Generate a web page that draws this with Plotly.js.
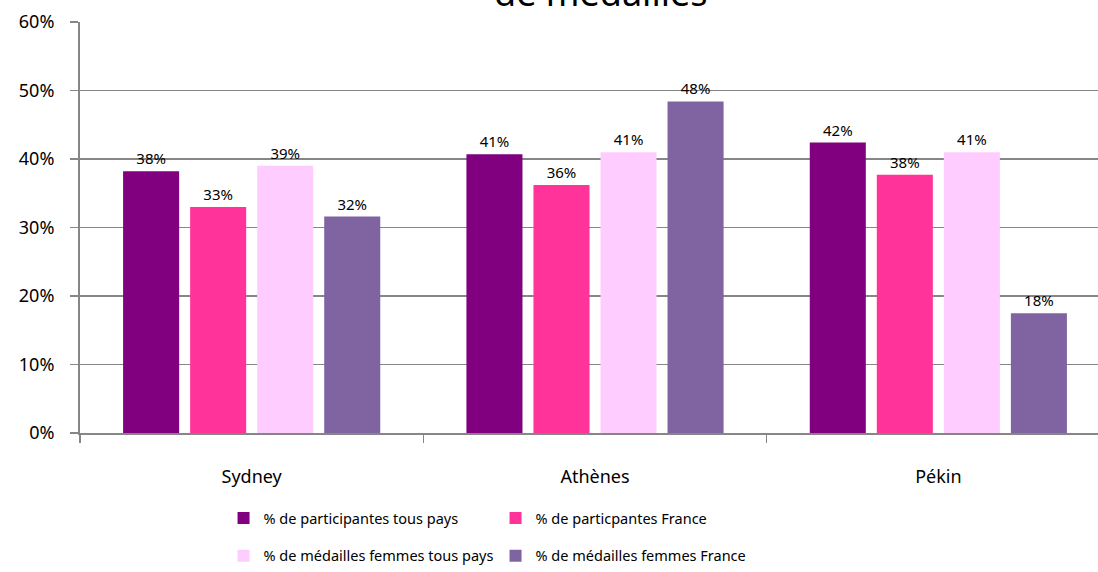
<!DOCTYPE html>
<html>
<head>
<meta charset="utf-8">
<script src="https://cdn.plot.ly/plotly-3.0.1.min.js"></script>
<style>html,body{margin:0;padding:0;background:#fff;}#chart{width:1098px;height:572px;}</style>
</head>
<body>
<div id="chart"></div>
<script>
const categories = ["Sydney", "Athènes", "Pékin"];
const seriesNames = [
  "% de participantes tous pays",
  "% de particpantes France",
  "% de médailles femmes tous pays",
  "% de médailles femmes France"
];
const participantesTousPays = [0.382, 0.407, 0.424];
const participantesFrance = [0.330, 0.362, 0.377];
const medaillesTousPays = [0.390, 0.410, 0.410];
const medaillesFrance = [0.316, 0.484, 0.175];
const yTicks = [0, 0.1, 0.2, 0.3, 0.4, 0.5, 0.6];
const titleText = "de médailles";

const colors = ["#800080", "#FF3399", "#FFCCFF", "#8064A2"];
const values = [participantesTousPays, participantesFrance, medaillesTousPays, medaillesFrance];
const legends = ["legend", "legend", "legend2", "legend2"];
const FONT = "Noto Sans, Open Sans, sans-serif";

const traces = values.map((v, i) => ({
  type: "bar",
  name: seriesNames[i],
  x: categories,
  y: v,
  marker: {color: colors[i]},
  text: v.map(d => Math.round(d * 100) + "%"),
  textposition: "outside",
  textfont: {family: FONT, size: 15, color: "#000"},
  cliponaxis: false,
  legend: legends[i],
  hoverinfo: "x+y"
}));

const layout = {
  width: 1098, height: 572,
  margin: {l: 80, r: 0, t: 22, b: 136},
  paper_bgcolor: "#fff", plot_bgcolor: "#fff",
  font: {family: FONT, color: "#000"},
  bargap: 0.219, bargroupgap: 0.164,
  barmode: "group",
  xaxis: {
    type: "category",
    range: [-0.5, 2.465],
    showline: true, linecolor: "#868686", linewidth: 2,
    ticks: "outside", tickson: "boundaries", ticklen: 8, tickcolor: "#868686", tickwidth: 1.5,
    showgrid: false,
    tickfont: {family: FONT, size: 18, color: "#000"},
    ticklabelstandoff: 26
  },
  yaxis: {
    range: [0, 0.6],
    tickvals: yTicks,
    tickformat: ".0%",
    showline: true, linecolor: "#868686", linewidth: 2,
    ticks: "outside", ticklen: 8, tickcolor: "#868686", tickwidth: 1.5,
    showgrid: true, gridcolor: "#868686", gridwidth: 1.5,
    zeroline: false,
    tickfont: {family: FONT, size: 18, color: "#000"},
    ticklabelstandoff: 12
  },
  legend: {
    orientation: "h", x: 0.141, y: -0.207, xanchor: "left", yanchor: "middle",
    entrywidth: 227, entrywidthmode: "pixels",
    font: {family: FONT, size: 14.5, color: "#000"}, traceorder: "normal"
  },
  legend2: {
    orientation: "h", x: 0.141, y: -0.299, xanchor: "left", yanchor: "middle",
    entrywidth: 227, entrywidthmode: "pixels",
    font: {family: FONT, size: 14.5, color: "#000"}, traceorder: "normal"
  },
  showlegend: true,
  annotations: [{
    text: titleText, xref: "paper", yref: "paper", x: 0.512, y: 1.008,
    xanchor: "center", yanchor: "bottom", showarrow: false,
    font: {family: FONT, size: 36, color: "#000"}
  }]
};

Plotly.newPlot("chart", traces, layout, {displayModeBar: false, staticPlot: true});
</script>
</body>
</html>
